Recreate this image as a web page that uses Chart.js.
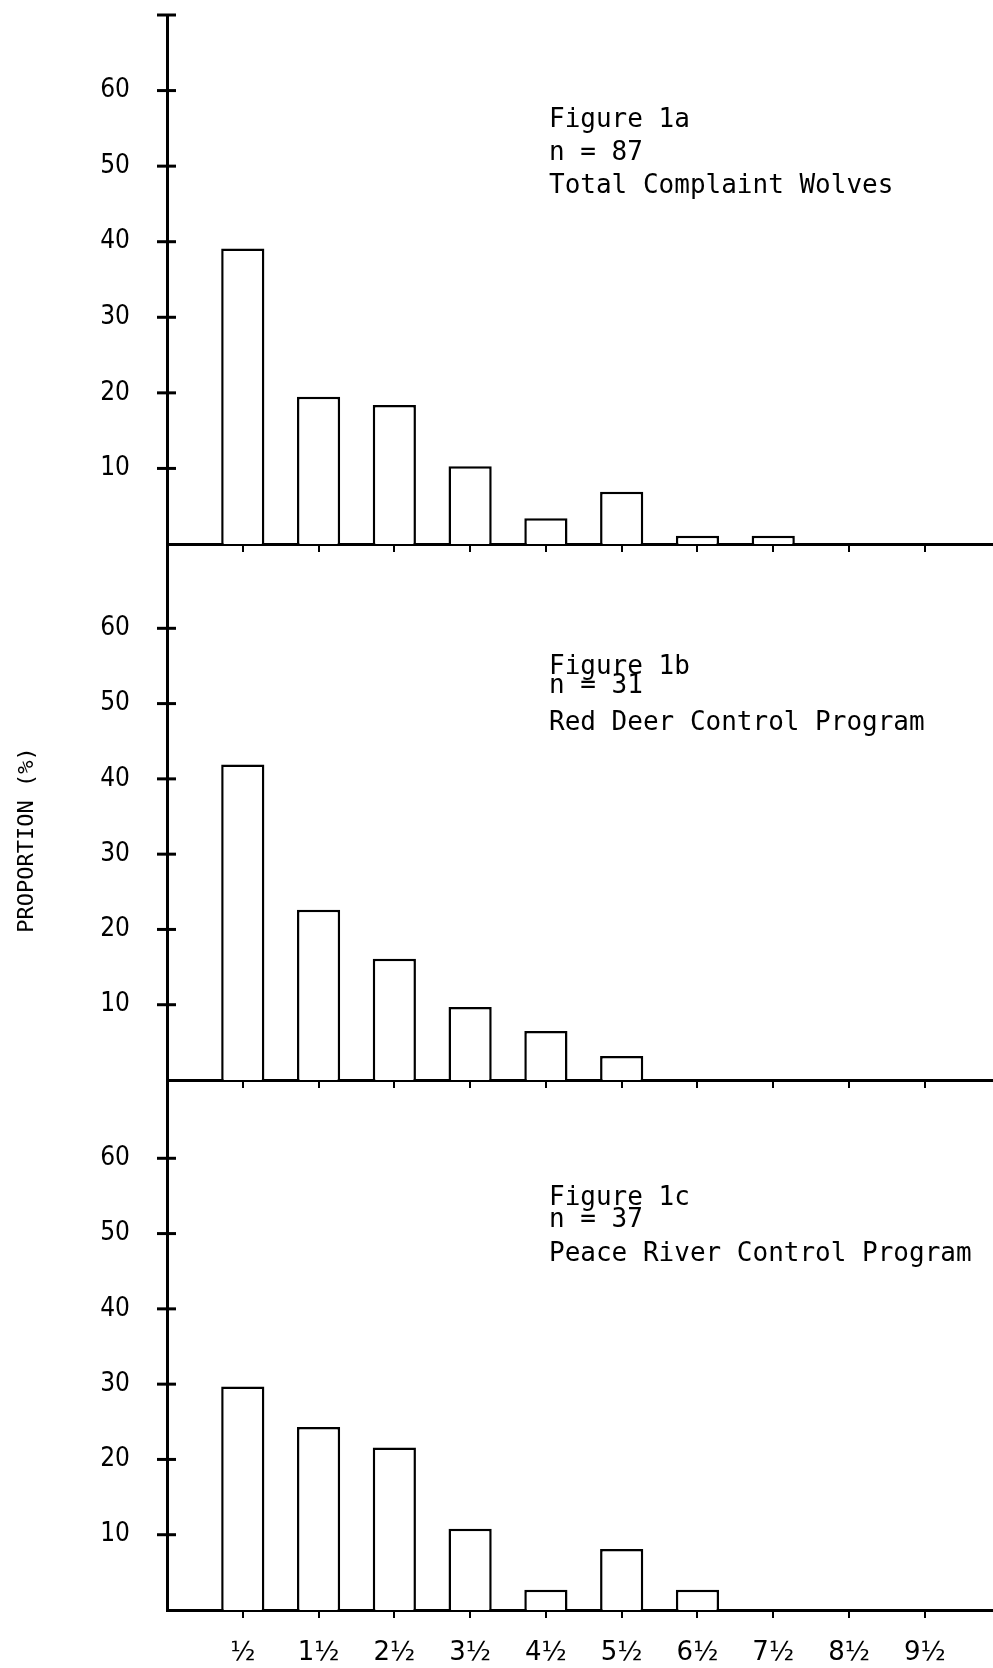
<!DOCTYPE html>
<html>
<head>
<meta charset="utf-8">
<script src="https://cdn.jsdelivr.net/npm/chart.js@4.4.1/dist/chart.umd.min.js"></script>
<style>
  html, body { margin: 0; padding: 0; background: #fff; }
  #page { position: relative; width: 993px; height: 1668px; overflow: hidden; }
  .panel { position: absolute; left: 0; width: 993px; }
</style>
</head>
<body>
<div id="page">
  <div class="panel" style="top:0;height:552px"><canvas id="chartA"></canvas></div>
  <div class="panel" style="top:540px;height:548px"><canvas id="chartB"></canvas></div>
  <div class="panel" style="top:1076px;height:592px"><canvas id="chartC"></canvas></div>
</div>
<script>
// age classes (years) on the shared x axis
const ageClasses = ["½", "1½", "2½", "3½", "4½", "5½", "6½", "7½", "8½", "9½"];
const yTicks = [10, 20, 30, 40, 50, 60];

// proportion (%) per age class
const totalComplaint = [39.1, 19.5, 18.4, 10.3, 3.4, 6.9, 1.1, 1.1, 0, 0];
const redDeer = [41.9, 22.6, 16.1, 9.7, 6.5, 3.2, 0, 0, 0, 0];
const peaceRiver = [29.7, 24.3, 21.6, 10.8, 2.7, 8.1, 2.7, 0, 0, 0];

const notesA = ["Figure 1a", "n = 87", "Total Complaint Wolves"];
const notesB = ["Figure 1b", "n = 31", "Red Deer Control Program"];
const notesC = ["Figure 1c", "n = 37", "Peace River Control Program"];
const yTitle = "PROPORTION (%)";

const INK = "#000";

// y ticks that cross the axis, the panel note and the axis title
const panelExtras = {
  id: "panelExtras",
  afterDraw(chart, args, opts) {
    const { ctx, chartArea: area, scales: { y } } = chart;
    ctx.save();
    ctx.strokeStyle = INK;
    ctx.lineWidth = 3;
    const marks = opts.cap ? yTicks.concat([y.max]) : yTicks;
    marks.forEach(v => {
      const py = y.getPixelForValue(v);
      ctx.beginPath();
      ctx.moveTo(area.left - 10, py);
      ctx.lineTo(area.left + 9, py);
      ctx.stroke();
    });

    ctx.fillStyle = INK;
    ctx.font = '26px "DejaVu Sans Mono"';
    ctx.textBaseline = "middle";
    ctx.textAlign = "left";
    opts.notes.forEach((t, i) => ctx.fillText(t, opts.noteX, area.top + opts.noteY[i]));

    if (opts.title) {
      ctx.font = '22px "DejaVu Sans Mono"';
      ctx.textAlign = "center";
      ctx.translate(27, opts.titleY);
      ctx.rotate(-Math.PI / 2);
      ctx.fillText(opts.title, 0, 0);
    }
    ctx.restore();
  }
};

function makePanel(id, values, yMax, notes, extra) {
  const ctx = document.getElementById(id);
  new Chart(ctx, {
    type: "bar",
    data: {
      datasets: [{
        data: values.map((v, i) => ({ x: i, y: v })),
        backgroundColor: "#fff",
        borderColor: INK,
        borderWidth: 2.5,
        barPercentage: 0.57,
        categoryPercentage: 1
      }]
    },
    plugins: [panelExtras],
    options: {
      responsive: true,
      maintainAspectRatio: false,
      animation: false,
      layout: { padding: { top: extra.padTop, bottom: 0, left: 0, right: 0 } },
      plugins: {
        legend: { display: false },
        tooltip: { enabled: false },
        panelExtras: {
          cap: extra.cap,
          notes: notes,
          noteX: 549,
          noteY: extra.noteY,
          title: extra.title,
          titleY: extra.titleY
        }
      },
      scales: {
        x: {
          type: "linear",
          min: -1,
          max: 9.9,
          offset: false,
          z: 1,
          afterBuildTicks: s => { s.ticks = ageClasses.map((_, i) => ({ value: i })); },
          afterFit: s => { s.height = extra.xHeight; s.paddingLeft = 0; s.paddingRight = 0; },
          grid: { offset: false, drawOnChartArea: false, color: INK, lineWidth: 2, tickLength: 8 },
          border: { color: INK, width: 3 },
          ticks: {
            display: extra.xLabels,
            padding: 20,
            color: INK,
            font: { family: "DejaVu Sans", size: 26 },
            maxRotation: 0,
            autoSkip: false,
            callback: v => ageClasses[v]
          }
        },
        y: {
          min: 0,
          max: yMax,
          z: 1,
          afterBuildTicks: s => { s.ticks = yTicks.map(v => ({ value: v })); },
          afterFit: s => { s.width = 167; s.paddingTop = 0; s.paddingBottom = 0; },
          grid: { drawOnChartArea: false, color: "rgba(0,0,0,0)", tickLength: 37 },
          border: { color: INK, width: 3 },
          ticks: {
            padding: 0,
            color: INK,
            font: { family: "DejaVu Sans Condensed, DejaVu Sans", size: 26 },
            callback: v => String(v)
          }
        }
      }
    }
  });
}

makePanel("chartA", totalComplaint, 70, notesA,
  { padTop: 15, xHeight: 8, xLabels: false, cap: true, noteY: [105, 138, 171] });
makePanel("chartB", redDeer, 71.2, notesB,
  { padTop: 4, xHeight: 8, xLabels: false, cap: false, noteY: [123, 142, 179],
    title: yTitle, titleY: 300 });
makePanel("chartC", peaceRiver, 70.4, notesC,
  { padTop: 4, xHeight: 58, xLabels: true, cap: false, noteY: [118, 140, 174] });
</script>
</body>
</html>
